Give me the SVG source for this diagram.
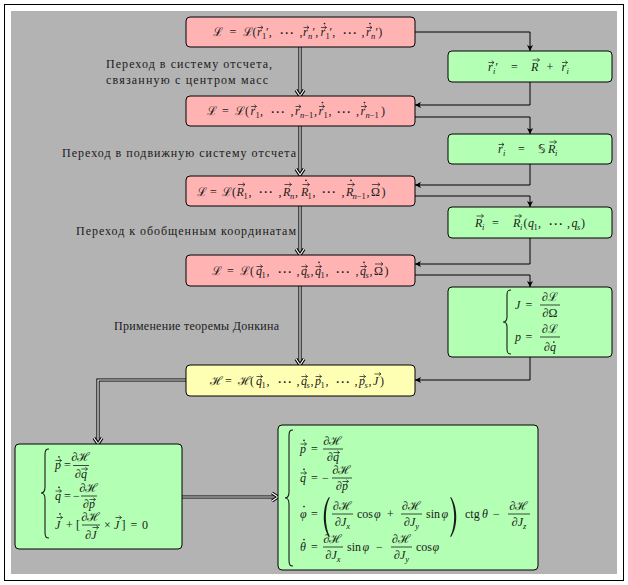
<svg xmlns="http://www.w3.org/2000/svg" width="628" height="585" viewBox="0 0 628 585">
<defs>
<marker id="ah" markerWidth="8" markerHeight="8" refX="6" refY="3" orient="auto" markerUnits="userSpaceOnUse">
<path d="M0,0 L6,3 L0,6 L1.5,3 z" fill="#000"/>
</marker>
<style>
.box{stroke:#000;stroke-width:1}
.pink{fill:#ffb3b3}
.green{fill:#b3ffb3}
.yellow{fill:#ffffb3}
.m{font-family:"Liberation Serif",serif;font-size:12px;fill:#1a1a1a}
.mc{font-family:"Liberation Serif",serif;font-size:12px;fill:#1a1a1a;text-anchor:middle}
.cal{font-family:"DejaVu Serif",serif;font-style:normal}
.i{font-style:italic}
.s{font-size:8.5px}
.dt{font-family:"DejaVu Sans",sans-serif;font-size:15px;fill:#1a1a1a;text-anchor:middle}
.lbl{font-family:"Liberation Serif",serif;font-size:12px;fill:#1a1a1a}
.c{fill:none;stroke:#000;stroke-width:1}
.dbo{fill:none;stroke:#000;stroke-width:3.2}
.dbi{fill:none;stroke:#fff;stroke-width:1.2}
.fr{stroke:#1a1a1a;stroke-width:0.8}
.br{fill:none;stroke:#1a1a1a;stroke-width:1.1}
.va{fill:none;stroke:#1a1a1a;stroke-width:0.7}
.dot{fill:#1a1a1a}
.par{fill:#1a1a1a}
</style>
</defs>
<rect x="4.5" y="4.5" width="619" height="576" fill="#fff" stroke="#000"/>
<rect x="11" y="11" width="606" height="563" fill="#b3b3b3"/>

<g id="connectors">
<path class="c" d="M415,32 H530 V51" marker-end="url(#ah)"/>
<path class="c" d="M530,82 V105 H415" marker-end="url(#ah)"/>
<path class="c" d="M415,117 H530 V134" marker-end="url(#ah)"/>
<path class="c" d="M530,164 V185 H415" marker-end="url(#ah)"/>
<path class="c" d="M415,196 H530 V207" marker-end="url(#ah)"/>
<path class="c" d="M530,238 V264 H415" marker-end="url(#ah)"/>
<path class="c" d="M415,275 H530 V287" marker-end="url(#ah)"/>
<path class="c" d="M530,357 V380 H415" marker-end="url(#ah)"/>
<g id="double">
<path class="dbo" d="M300,47 V95"/><path class="dbi" d="M300,47 V95"/>
<path class="dbo" d="M300,126 V174"/><path class="dbi" d="M300,126 V174"/>
<path class="dbo" d="M300,206 V254"/><path class="dbi" d="M300,206 V254"/>
<path class="dbo" d="M300,286 V364"/><path class="dbi" d="M300,286 V364"/>
<path class="dbo" d="M186,380 H98 V443"/><path class="dbi" d="M186,380 H98 V443"/>
<path class="dbo" d="M182,497 H277"/><path class="dbi" d="M182,497 H277"/>
<path class="dbo" d="M296,90 L300,96 L304,90 M296,169 L300,175 L304,169 M296,249 L300,255 L304,249 M296,359 L300,365 L304,359 M94,438 L98,444 L102,438 M272,493 L278,497 L272,501"/>
<path class="dbi" d="M296,90 L300,96 L304,90 M296,169 L300,175 L304,169 M296,249 L300,255 L304,249 M296,359 L300,365 L304,359 M94,438 L98,444 L102,438 M272,493 L278,497 L272,501"/>
</g>
</g>

<g id="labels">
<text class="lbl" x="106" y="68" textLength="166" lengthAdjust="spacing">Переход в систему отсчета,</text>
<text class="lbl" x="106" y="84" textLength="162" lengthAdjust="spacing">связанную с центром масс</text>
<text class="lbl" x="62" y="157" textLength="234" lengthAdjust="spacing">Переход в подвижную систему отсчета</text>
<text class="lbl" x="76" y="235" textLength="220" lengthAdjust="spacing">Переход к обобщенным координатам</text>
<text class="lbl" x="114" y="330" textLength="165" lengthAdjust="spacing">Применение теоремы Донкина</text>
</g>

<g id="L1">
<rect class="box pink" x="186" y="17" width="229" height="30" rx="4"/>
<text class="m" y="36"><tspan class="cal" x="213">ℒ</tspan><tspan x="229.5">=</tspan><tspan class="cal" x="242.5">ℒ</tspan><tspan x="252.5">(</tspan><tspan class="i" x="257">r</tspan><tspan class="s" x="262" y="39">1</tspan><tspan x="266" y="36">′,</tspan><tspan x="299.5">,</tspan><tspan class="i" x="303">r</tspan><tspan class="s i" x="308" y="39">n</tspan><tspan x="312.5" y="36">′,</tspan><tspan class="i" x="320.5">r</tspan><tspan class="s" x="325.5" y="39">1</tspan><tspan x="329.5" y="36">′,</tspan><tspan x="361.5">,</tspan><tspan class="i" x="366">r</tspan><tspan class="s i" x="371" y="39">n</tspan><tspan x="375.5" y="36">′)</tspan></text>
<text class="dt" x="286.5" y="37.5">⋯</text><text class="dt" x="349.5" y="37.5">⋯</text>
<path class="va" d="M257.5,27.5H263M260.8,25.7L263,27.5L260.8,29.3M303.5,27.5H309M306.8,25.7L309,27.5L306.8,29.3M321,27.5H326.5M324.3,25.7L326.5,27.5L324.3,29.3M366.5,27.5H372M369.8,25.7L372,27.5L369.8,29.3"/>
<circle class="dot" cx="324.5" cy="23.5" r="0.85"/><circle class="dot" cx="370" cy="23.5" r="0.85"/>
</g>

<g id="L2">
<rect class="box pink" x="186" y="96" width="229" height="30" rx="4"/>
<text class="m" y="115"><tspan class="cal" x="207">ℒ</tspan><tspan x="222">=</tspan><tspan class="cal" x="235">ℒ</tspan><tspan x="245">(</tspan><tspan class="i" x="250.5">r</tspan><tspan class="s" x="255.5" y="118">1</tspan><tspan x="260" y="115">,</tspan><tspan x="290.5">,</tspan><tspan class="i" x="295">r</tspan><tspan class="s" x="300" y="118"><tspan class="i">n</tspan>−1</tspan><tspan x="314" y="115">,</tspan><tspan class="i" x="318.5">r</tspan><tspan class="s" x="323.5" y="118">1</tspan><tspan x="328.5" y="115">,</tspan><tspan x="356">,</tspan><tspan class="i" x="360.5">r</tspan><tspan class="s" x="365.5" y="118"><tspan class="i">n</tspan>−1</tspan><tspan x="381" y="115">)</tspan></text>
<text class="dt" x="277.5" y="116.5">⋯</text><text class="dt" x="343.5" y="116.5">⋯</text>
<path class="va" d="M251,106.5H256.5M254.3,104.7L256.5,106.5L254.3,108.3M295.5,106.5H301M298.8,104.7L301,106.5L298.8,108.3M319,106.5H324.5M322.3,104.7L324.5,106.5L322.3,108.3M361,106.5H366.5M364.3,104.7L366.5,106.5L364.3,108.3"/>
<circle class="dot" cx="322.5" cy="102.5" r="0.85"/><circle class="dot" cx="364.5" cy="102.5" r="0.85"/>
</g>

<g id="L3">
<rect class="box pink" x="186" y="176" width="229" height="30" rx="4"/>
<text class="m" y="195.5"><tspan class="cal" x="197">ℒ</tspan><tspan x="210">=</tspan><tspan class="cal" x="222">ℒ</tspan><tspan x="232">(</tspan><tspan class="i" x="236.5">R</tspan><tspan class="s" x="243.5" y="198.5">1</tspan><tspan x="248.5" y="195.5">,</tspan><tspan x="278.5">,</tspan><tspan class="i" x="283">R</tspan><tspan class="s i" x="290" y="198.5">n</tspan><tspan x="295" y="195.5">,</tspan><tspan class="i" x="301">R</tspan><tspan class="s" x="307.5" y="198.5">1</tspan><tspan x="312.5" y="195.5">,</tspan><tspan x="341.5">,</tspan><tspan class="i" x="346">R</tspan><tspan class="s" x="352.5" y="198.5"><tspan class="i">n</tspan>−1</tspan><tspan x="366.5" y="195.5">,</tspan><tspan x="371">Ω</tspan><tspan x="381.5">)</tspan></text>
<text class="dt" x="265.5" y="197">⋯</text><text class="dt" x="328.5" y="197">⋯</text>
<path class="va" d="M238,184.5H245M242.8,182.7L245,184.5L242.8,186.3M284.5,184.5H291.5M289.3,182.7L291.5,184.5L289.3,186.3M302.5,184.5H309.5M307.3,182.7L309.5,184.5L307.3,186.3M347.5,184.5H354.5M352.3,182.7L354.5,184.5L352.3,186.3M372,184.5H380M377.8,182.7L380,184.5L377.8,186.3"/>
<circle class="dot" cx="306" cy="180.3" r="0.85"/><circle class="dot" cx="351" cy="180.3" r="0.85"/>
</g>

<g id="L4">
<rect class="box pink" x="186" y="255" width="229" height="31" rx="4"/>
<text class="m" y="275"><tspan class="cal" x="212">ℒ</tspan><tspan x="227">=</tspan><tspan class="cal" x="240">ℒ</tspan><tspan x="250">(</tspan><tspan class="i" x="256">q</tspan><tspan class="s" x="261.5" y="278">1</tspan><tspan x="266.5" y="275">,</tspan><tspan x="296.5">,</tspan><tspan class="i" x="301">q</tspan><tspan class="s i" x="306.5" y="278">s</tspan><tspan x="310.5" y="275">,</tspan><tspan class="i" x="315">q</tspan><tspan class="s" x="320.5" y="278">1</tspan><tspan x="325.5" y="275">,</tspan><tspan x="355.5">,</tspan><tspan class="i" x="360">q</tspan><tspan class="s i" x="365.5" y="278">s</tspan><tspan x="369.5" y="275">,</tspan><tspan x="374">Ω</tspan><tspan x="384.5">)</tspan></text>
<text class="dt" x="284.5" y="276.5">⋯</text><text class="dt" x="342.5" y="276.5">⋯</text>
<path class="va" d="M256.5,266.5H262.5M260.3,264.7L262.5,266.5L260.3,268.3M301.5,266.5H307.5M305.3,264.7L307.5,266.5L305.3,268.3M315.5,266.5H321.5M319.3,264.7L321.5,266.5L319.3,268.3M360.5,266.5H366.5M364.3,264.7L366.5,266.5L364.3,268.3M375,264H383M380.8,262.2L383,264L380.8,265.8"/>
<circle class="dot" cx="319" cy="262.3" r="0.85"/><circle class="dot" cx="364" cy="262.3" r="0.85"/>
</g>

<g id="H">
<rect class="box yellow" x="186" y="365" width="229" height="31" rx="4"/>
<text class="m" y="385"><tspan class="cal" x="210">ℋ</tspan><tspan x="225">=</tspan><tspan class="cal" x="238">ℋ</tspan><tspan x="250">(</tspan><tspan class="i" x="256">q</tspan><tspan class="s" x="261.5" y="388">1</tspan><tspan x="266.5" y="385">,</tspan><tspan x="296.5">,</tspan><tspan class="i" x="301">q</tspan><tspan class="s i" x="306.5" y="388">s</tspan><tspan x="310.5" y="385">,</tspan><tspan class="i" x="315">p</tspan><tspan class="s" x="320.5" y="388">1</tspan><tspan x="325.5" y="385">,</tspan><tspan x="354.5">,</tspan><tspan class="i" x="359">p</tspan><tspan class="s i" x="364.5" y="388">s</tspan><tspan x="368.5" y="385">,</tspan><tspan class="i" x="373">J</tspan><tspan x="380">)</tspan></text>
<text class="dt" x="284.5" y="386.5">⋯</text><text class="dt" x="342.5" y="386.5">⋯</text>
<path class="va" d="M256.5,376.5H262.5M260.3,374.7L262.5,376.5L260.3,378.3M301.5,376.5H307.5M305.3,374.7L307.5,376.5L305.3,378.3M315.5,376.5H321.5M319.3,374.7L321.5,376.5L319.3,378.3M359.5,376.5H365.5M363.3,374.7L365.5,376.5L363.3,378.3M374.5,374H381M378.8,372.2L381,374L378.8,375.8"/>
</g>

<g id="G1">
<rect class="box green" x="448" y="51" width="164" height="31" rx="4"/>
<text class="m" y="71"><tspan class="i" x="488">r</tspan><tspan class="s i" x="493" y="74">i</tspan><tspan x="495.5" y="71">′</tspan><tspan x="511">=</tspan><tspan class="i" x="531">R</tspan><tspan x="546.5">+</tspan><tspan class="i" x="561.5">r</tspan><tspan class="s i" x="566.5" y="74">i</tspan></text>
<path class="va" d="M488.5,62.5H494M491.8,60.7L494,62.5L491.8,64.3M532.5,60H539.5M537.3,58.2L539.5,60L537.3,61.8M562,62.5H567.5M565.3,60.7L567.5,62.5L565.3,64.3"/>
</g>

<g id="G2">
<rect class="box green" x="448" y="134" width="164" height="30" rx="4"/>
<text class="m" y="153"><tspan class="i" x="498">r</tspan><tspan class="s i" x="503" y="156">i</tspan><tspan x="518" y="153">=</tspan><tspan x="538">𝕊</tspan><tspan class="i" x="548">R</tspan><tspan class="s i" x="555" y="156">i</tspan></text>
<path class="va" d="M498.5,144.5H504M501.8,142.7L504,144.5L501.8,146.3M549.5,142H556.5M554.3,140.2L556.5,142L554.3,143.8"/>
</g>

<g id="G3">
<rect class="box green" x="448" y="207" width="164" height="31" rx="4"/>
<text class="m" y="227"><tspan class="i" x="475">R</tspan><tspan class="s i" x="482" y="230">i</tspan><tspan x="492" y="227">=</tspan><tspan class="i" x="513">R</tspan><tspan class="s i" x="520" y="230">i</tspan><tspan x="523.5" y="227">(</tspan><tspan class="i" x="528">q</tspan><tspan class="s" x="533.5" y="230">1</tspan><tspan x="538" y="227">,</tspan><tspan x="567">,</tspan><tspan class="i" x="571.5">q</tspan><tspan class="s i" x="577" y="230">s</tspan><tspan x="581" y="227">)</tspan></text>
<text class="dt" x="555.5" y="228.5">⋯</text>
<path class="va" d="M476.5,216H483.5M481.3,214.2L483.5,216L481.3,217.8M514.5,216H521.5M519.3,214.2L521.5,216L519.3,217.8"/>
</g>

<g id="G4">
<rect class="box green" x="448" y="287" width="164" height="70" rx="4"/>
<path class="br" d="M511,290 C508,290 507,291 507,295 L507,317 C507,320 506,322 503,322 C506,322 507,324 507,327 L507,349 C507,353 508,354 511,354"/>
<text class="m i" x="515" y="309">J</text><text class="m" x="525.5" y="309">=</text>
<text class="mc" x="550" y="300.5">∂<tspan class="cal">ℒ</tspan></text><line class="fr" x1="540" y1="305" x2="560" y2="305"/><text class="mc" x="550" y="317">∂Ω</text>
<text class="m i" x="515" y="341">p</text><text class="m" x="525.5" y="341">=</text>
<text class="mc" x="550" y="332.5">∂<tspan class="cal">ℒ</tspan></text><line class="fr" x1="540" y1="337" x2="560" y2="337"/><text class="mc" x="550" y="350.5">∂<tspan class="i">q</tspan></text>
<circle class="dot" cx="553.8" cy="342" r="0.85"/>
</g>

<g id="G5">
<rect class="box green" x="15" y="444" width="167" height="105" rx="4"/>
<path class="br" d="M49,449 C46,449 45,450 45,455 L45,487 C45,491 44,493 41,493 C44,493 45,495 45,499 L45,532 C45,537 46,538 49,538"/>
<text class="m i" x="55" y="469">p</text><text class="m" x="64" y="469">=</text>
<text class="mc" x="81" y="461">∂<tspan class="cal">ℋ</tspan></text><line class="fr" x1="73" y1="465.5" x2="89" y2="465.5"/><text class="mc" x="81" y="477.5">∂<tspan class="i">q</tspan></text>
<text class="m i" x="55" y="499.5">q</text><text class="m" x="64" y="499.5">=</text><text class="m" x="73" y="499.5">−</text>
<text class="mc" x="89" y="491.5">∂<tspan class="cal">ℋ</tspan></text><line class="fr" x1="81" y1="496" x2="97" y2="496"/><text class="mc" x="89" y="508">∂<tspan class="i">p</tspan></text>
<text class="m i" x="55" y="528.5">J</text><text class="m" x="66" y="528.5">+</text><text class="m" x="76" y="528.5">[</text>
<text class="mc" x="91" y="520.5">∂<tspan class="cal">ℋ</tspan></text><line class="fr" x1="82" y1="525" x2="100" y2="525"/><text class="mc" x="91" y="538.5">∂<tspan class="i">J</tspan></text>
<text class="m" x="104" y="528.5">×</text><text class="m i" x="114" y="528.5">J</text><text class="m" x="121.5" y="528.5">]</text><text class="m" x="130.5" y="528.5">=</text><text class="m" x="142" y="528.5">0</text>
<path class="va" d="M55.5,460.5H61.5M59.3,458.7L61.5,460.5L59.3,462.3M81.5,469H87.5M85.3,467.2L87.5,469L85.3,470.8M55.5,491H61.5M59.3,489.2L61.5,491L59.3,492.8M89.5,499.5H95.5M93.3,497.7L95.5,499.5L93.3,501.3M56.5,517.5H62.5M60.3,515.7L62.5,517.5L60.3,519.3M92.5,527.5H98.5M96.3,525.7L98.5,527.5L96.3,529.3M115.5,517.5H121.5M119.3,515.7L121.5,517.5L119.3,519.3"/>
<circle class="dot" cx="59" cy="456.8" r="0.85"/><circle class="dot" cx="59" cy="487.3" r="0.85"/><circle class="dot" cx="60" cy="513.8" r="0.85"/>
</g>

<g id="G6">
<rect class="box green" x="278" y="425" width="260" height="145" rx="4"/>
<path class="br" d="M293,430 C290,430 289,431 289,436 L289,492 C289,496 288,498 285,498 C288,498 289,500 289,504 L289,560 C289,565 290,566 293,566"/>
<text class="m i" x="300" y="452.5">p</text><text class="m" x="311" y="452.5">=</text>
<text class="mc" x="333" y="444.5">∂<tspan class="cal">ℋ</tspan></text><line class="fr" x1="323" y1="449" x2="343" y2="449"/><text class="mc" x="333" y="461">∂<tspan class="i">q</tspan></text>
<text class="m i" x="300" y="481.5">q</text><text class="m" x="311" y="481.5">=</text><text class="m" x="322" y="481.5">−</text>
<text class="mc" x="342" y="473.5">∂<tspan class="cal">ℋ</tspan></text><line class="fr" x1="332" y1="478" x2="352" y2="478"/><text class="mc" x="342" y="490">∂<tspan class="i">p</tspan></text>
<path class="va" d="M300.5,444H306.5M304.3,442.2L306.5,444L304.3,445.8M333.5,452.5H339.5M337.3,450.7L339.5,452.5L337.3,454.3M300.5,473H306.5M304.3,471.2L306.5,473L304.3,474.8M342.5,481.5H348.5M346.3,479.7L348.5,481.5L346.3,483.3"/>
<circle class="dot" cx="304" cy="440.3" r="0.85"/><circle class="dot" cx="304" cy="469.3" r="0.85"/>
<text class="m i" x="300" y="517.5">φ</text><text class="m" x="311" y="517.5">=</text>
<path class="par" d="M329,497 C322,507 322,527 329,537 L329.8,536.4 C324.5,526 324.5,508 329.8,497.6 Z"/>
<text class="mc" x="342.5" y="509.5">∂<tspan class="cal">ℋ</tspan></text><line class="fr" x1="332" y1="514" x2="353" y2="514"/><text class="mc" x="342.5" y="526">∂<tspan class="i">J</tspan><tspan class="s i" dy="2.5">x</tspan></text>
<text class="m" x="357" y="517.5">cos</text><text class="m i" x="374" y="517.5">φ</text><text class="m" x="387" y="517.5">+</text>
<text class="mc" x="411.5" y="509.5">∂<tspan class="cal">ℋ</tspan></text><line class="fr" x1="401" y1="514" x2="422" y2="514"/><text class="mc" x="411.5" y="526">∂<tspan class="i">J</tspan><tspan class="s i" dy="2.5">y</tspan></text>
<text class="m" x="426" y="517.5">sin</text><text class="m i" x="441.5" y="517.5">φ</text>
<path class="par" d="M451,497 C458,507 458,527 451,537 L450.2,536.4 C455.5,526 455.5,508 450.2,497.6 Z"/>
<text class="m" x="465" y="517.5">ctg</text><text class="m i" x="482" y="517.5">θ</text><text class="m" x="493" y="517.5">−</text>
<text class="mc" x="519" y="509.5">∂<tspan class="cal">ℋ</tspan></text><line class="fr" x1="508" y1="514" x2="530" y2="514"/><text class="mc" x="519" y="526">∂<tspan class="i">J</tspan><tspan class="s i" dy="2.5">z</tspan></text>
<text class="m i" x="300" y="550.5">θ</text><text class="m" x="311" y="550.5">=</text>
<text class="mc" x="333" y="542.5">∂<tspan class="cal">ℋ</tspan></text><line class="fr" x1="323" y1="547" x2="343" y2="547"/><text class="mc" x="333" y="559">∂<tspan class="i">J</tspan><tspan class="s i" dy="2.5">x</tspan></text>
<text class="m" x="347" y="550.5">sin</text><text class="m i" x="362.5" y="550.5">φ</text><text class="m" x="376" y="550.5">−</text>
<text class="mc" x="401.5" y="542.5">∂<tspan class="cal">ℋ</tspan></text><line class="fr" x1="391" y1="547" x2="412" y2="547"/><text class="mc" x="401.5" y="559">∂<tspan class="i">J</tspan><tspan class="s i" dy="2.5">y</tspan></text>
<text class="m" x="416" y="550.5">cos</text><text class="m i" x="432.5" y="550.5">φ</text>
<circle class="dot" cx="304" cy="506.5" r="0.85"/><circle class="dot" cx="304" cy="539.5" r="0.85"/>
</g>
</svg>
